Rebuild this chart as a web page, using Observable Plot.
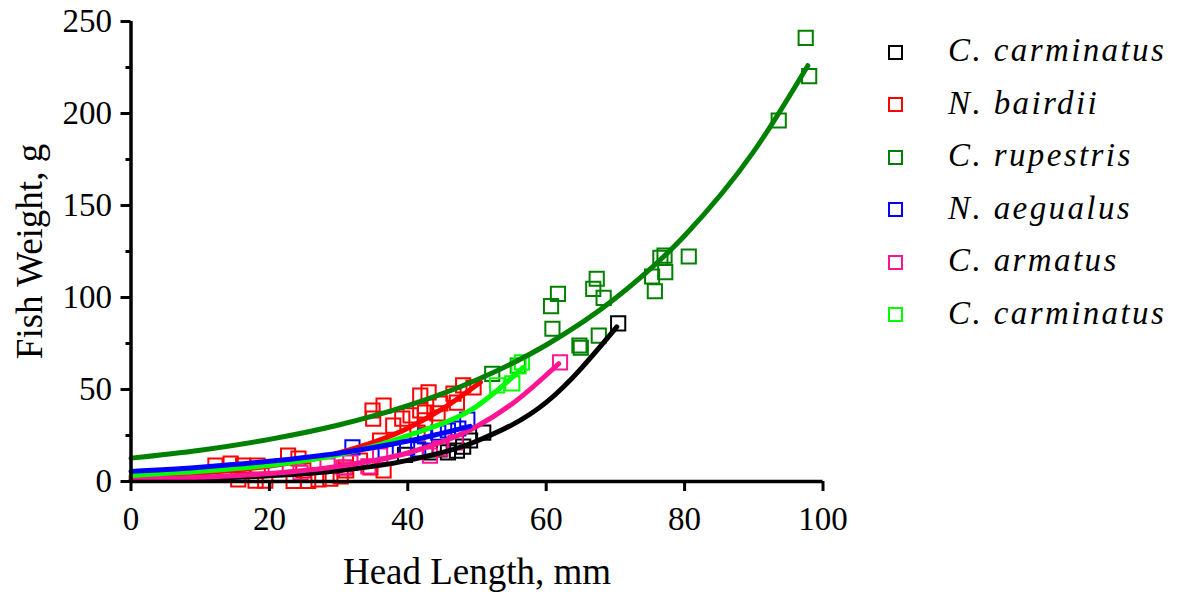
<!DOCTYPE html>
<html>
<head>
<meta charset="utf-8">
<script src="https://cdn.jsdelivr.net/npm/d3@7"></script>
<script src="https://cdn.jsdelivr.net/npm/@observablehq/plot@0.6"></script>
<style>
  html, body { margin: 0; padding: 0; background: #fff; }
  #wrap { position: relative; width: 1185px; height: 594px; }
  #legend { position: absolute; left: 0; top: 0; width: 1185px; height: 594px; pointer-events: none; }
  .lg-sq { position: absolute; width: 11px; height: 11px; border: 2px solid; box-sizing: content-box; }
  .lg-tx { position: absolute; font-family: "Liberation Serif", "Times New Roman", serif; font-style: italic; font-size: 33px; letter-spacing: 2.4px; white-space: nowrap; color: #000; line-height: 1; }
</style>
</head>
<body>
<div id="wrap"><div id="chart"></div><div id="legend"></div></div>
<script>
// Series names and colours (legend order)
const seriesIds = ["cc1", "nb", "cr", "na", "ca", "cc2"];
const seriesNames = ["C. carminatus", "N. bairdii", "C. rupestris", "N. aegualus", "C. armatus", "C. carminatus"];
const seriesColors = ["#000000", "#ff0000", "#008000", "#0000ff", "#ff1493", "#00ff00"];

// Observed points [head length mm, weight g]
const cCarminatusPts = [[39.6,14.5],[43.2,15.8],[44.6,17.5],[45.8,15.8],[47.1,16.8],[48.0,19.0],[49.0,22.3],[50.9,26.6],[70.4,85.9]];
const nBairdiiPts = [[12.2,8.7],[14.4,9.8],[16.2,8.7],[18.3,8.7],[15.5,1.1],[18.0,0.5],[19.4,0.5],[22.7,14.1],[24.2,12.5],[24.9,6.0],
  [23.5,0.3],[25.6,0.3],[27.1,1.1],[28.8,1.6],[30.3,2.7],[31.0,7.6],[33.1,11.4],[34.6,7.6],[31.1,6.0],[36.5,6.0],
  [34.9,38.6],[36.5,41.3],[35.0,34.2],[37.9,30.4],[39.2,34.2],[40.4,35.9],[41.8,46.7],[41.8,38.6],[41.4,26.6],[36.0,22.3],
  [43.0,48.4],[44.3,37.0],[42.5,37.5],[42.5,33.2],[44.7,42.4],[46.6,47.8],[47.1,42.9],[48.0,52.2],[49.5,51.1]];
const cRupestrisPts = [[52.2,58.5],[55.9,63.0],[60.7,95.3],[61.7,102.0],[60.9,83.0],[64.8,73.9],[65.0,72.7],[66.8,104.7],[67.3,110.2],[68.3,99.8],
  [67.6,79.3],[75.3,111.4],[75.7,103.4],[76.5,121.6],[77.1,122.8],[77.2,113.8],[80.6,122.3],[93.6,196.2],[97.5,241.1],[98.0,220.3]];
const nAegualusPts = [[32.0,18.5],[36.8,16.8],[39.9,18.5],[41.5,17.5],[42.5,24.5],[44.4,26.6],[45.8,27.7],[47.3,28.8],[48.6,33.7]];
const cArmatusPts = [[20.9,7.1],[24.5,4.9],[28.4,8.7],[30.7,7.6],[31.7,10.3],[34.3,8.2],[36.0,14.1],[43.2,14.1],[44.7,17.9],[46.9,21.2],[62.0,64.7]];
const cCarminatus2Pts = [[52.9,52.2],[55.1,53.3],[56.0,62.5],[56.5,64.7]];

// Fitted curves
const cCarminatusFit = [[0,0.8],[10,1.6],[20,3.1],[30,5.9],[40,11.5],[50,22],[60,43],[70.2,84]];
const nBairdiiFit = [[0,2.4],[10,4.5],[20,8.4],[30,15.6],[40,29],[45,39.5],[50.5,54]];
const cRupestrisFit = [[0,12.7],[10,17],[20,22.9],[30,30.7],[40,41.2],[50,55.3],[60,74.2],[70,99.6],[80,133.6],[90,179.4],[97.8,226]];
const nAegualusFit = [[0,5.5],[10,7.8],[20,11],[30,15.4],[40,22],[49,30]];
const cArmatusFit = [[0,1.1],[10,2.3],[20,4.3],[30,8.3],[40,15.5],[50,30],[55,42],[61.8,64]];
const cCarminatus2Fit = [[0,3.3],[10,5.5],[20,8.8],[30,14.5],[40,25],[50,41],[56.7,62]];

// Axis ticks
const xTicks = [0, 20, 40, 60, 80, 100];
const yTicks = [0, 50, 100, 150, 200, 250];
const yMinorTicks = [25, 75, 125, 175, 225];

const ptsBySeries = [cCarminatusPts, nBairdiiPts, cRupestrisPts, nAegualusPts, cArmatusPts, cCarminatus2Pts];
const fitBySeries = [cCarminatusFit, nBairdiiFit, cRupestrisFit, nAegualusFit, cArmatusFit, cCarminatus2Fit];
const points = ptsBySeries.flatMap((arr, i) => arr.map(([x, y]) => ({x, y, s: seriesIds[i]})));
const fits = fitBySeries.flatMap((arr, i) => arr.map(([x, y]) => ({x, y, s: seriesIds[i]})));
// draw order of lines
const lineOrder = ["cc1", "nb", "cr", "ca", "cc2", "na"];

const font = "'Liberation Serif', 'Times New Roman', serif";
const chart = Plot.plot({
  width: 1185,
  height: 594,
  marginLeft: 130.5,
  marginRight: 362.5,
  marginTop: 21,
  marginBottom: 113,
  style: {fontFamily: font, fontSize: "33px", color: "#000", background: "#fff", overflow: "visible"},
  x: {domain: [0, 100]},
  y: {domain: [0, 250]},
  color: {domain: seriesIds, range: seriesColors},
  marks: [
    Plot.dot(points, {x: "x", y: "y", stroke: "s", symbol: "square", r: 8, strokeWidth: 2, fill: "none"}),
    ...lineOrder.map(id => Plot.line(fits.filter(d => d.s === id), {x: "x", y: "y", stroke: "s", strokeWidth: 5, curve: "monotone-x"})),
    Plot.axisY({ticks: yMinorTicks, tickSize: 5, strokeWidth: 3, text: null, label: null}),
    Plot.axisY({ticks: yTicks, tickSize: 10, tickPadding: 9, strokeWidth: 3, label: null, fontSize: 33, fontFamily: font}),
    Plot.axisX({ticks: xTicks, tickSize: 10, tickPadding: 15, strokeWidth: 3, label: null, fontSize: 33, fontFamily: font}),
    Plot.ruleX([0], {strokeWidth: 3.5}),
    Plot.ruleY([0], {strokeWidth: 3.5}),
    Plot.text(["Head Length, mm"], {frameAnchor: "bottom", textAnchor: "middle", lineAnchor: "bottom", dy: 102, fontSize: 37, fontFamily: font}),
    Plot.text(["Fish Weight, g"], {frameAnchor: "left", textAnchor: "middle", rotate: -90, lineAnchor: "middle", dx: -101, fontSize: 37, fontFamily: font})
  ]
});
document.getElementById("chart").appendChild(chart);

// Legend
const legend = document.getElementById("legend");
const rowY = [52.3, 104.8, 157.3, 209.8, 262.3, 314.8];
seriesNames.forEach((name, i) => {
  const sq = document.createElement("div");
  sq.className = "lg-sq";
  sq.style.borderColor = seriesColors[i];
  sq.style.left = (895 - 7.5) + "px";
  sq.style.top = (rowY[i] - 7.5) + "px";
  legend.appendChild(sq);
  const tx = document.createElement("div");
  tx.className = "lg-tx";
  tx.textContent = name;
  tx.style.left = "948px";
  tx.style.top = (rowY[i] - 18) + "px";
  legend.appendChild(tx);
});
</script>
</body>
</html>
